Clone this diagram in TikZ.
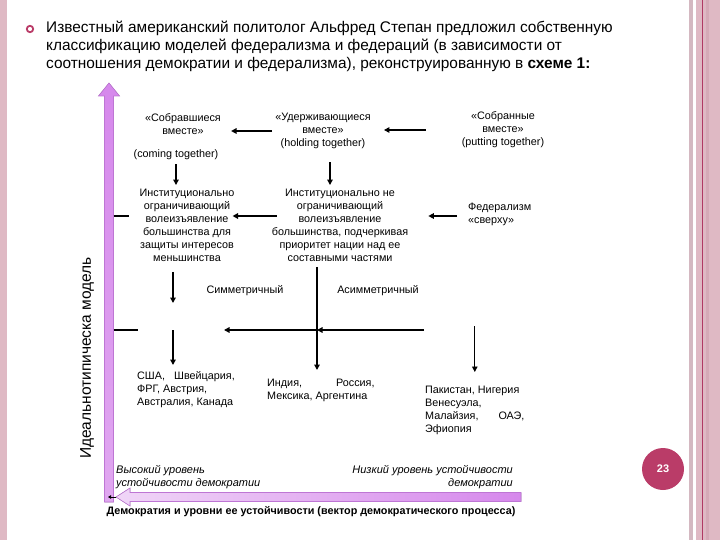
\documentclass[tikz,border=0pt]{standalone}
\usepackage{fontspec}
\setmainfont{Liberation Sans}
\usetikzlibrary{positioning,arrows.meta}

\definecolor{rim}{RGB}{223,185,196}
\definecolor{rimgrey}{RGB}{212,184,193}
\definecolor{rimdark}{RGB}{213,170,183}
\definecolor{rimline}{RGB}{176,58,100}
\definecolor{badge}{RGB}{186,60,104}
\definecolor{axisdark}{RGB}{214,136,236}
\definecolor{axislight}{RGB}{240,214,247}
\definecolor{axisedge}{RGB}{190,118,212}

\tikzstyle{txt}=[inner sep=0pt,align=center,font=\fontsize{10.8}{13}\selectfont]
\tikzstyle{ltxt}=[txt,align=left,anchor=north west]
\tikzstyle{itxt}=[ltxt,font=\fontsize{11}{13.5}\selectfont\itshape]
\tikzstyle{arr}=[-{Triangle[length=5.5pt,width=5.5pt]},line width=1.5pt]
\tikzstyle{thinarr}=[arr,line width=0.8pt]
\newcommand{\myarrow}[5]{\draw[#5,shorten <=#3,shorten >=#4] (#1) -- (#2);}

\begin{document}
\begin{tikzpicture}[x=1pt,y=-1pt]
\useasboundingbox (0,0) rectangle (720,540);

% slide frame
\fill[rim] (0,0) rectangle (7,540);
\fill[rimgrey] (689,0) rectangle (693,540);
\fill[rim] (696,0) rectangle (720,540);
\fill[rimdark] (706,0) rectangle (708.5,540);
\draw[rimline,line width=0.9pt] (702,0) -- (702,540);
\draw[badge,line width=1.8pt] (30,29) circle (3.2);
\node[ltxt,font=\fontsize{15.4}{18}\selectfont] (intro) at (46,21)
  {Известный американский политолог Альфред Степан предложил собственную\\
   классификацию моделей федерализма и федераций (в зависимости от\\
   соотношения демократии и федерализма), реконструированную в \textbf{схеме 1:}};
\node[circle,fill=badge,minimum size=42pt,inner sep=0pt,text=white,
  font=\fontsize{11}{11}\selectfont\bfseries] (page) at (663,469) {23};

% axes
\fill[top color=axisdark,bottom color=axisdark!60!axislight,draw=axisedge,line width=0.6pt]
  (109,83) -- (119.5,96) -- (113.5,96) -- (113.5,502) -- (104.5,502) -- (104.5,96) -- (98.5,96) -- cycle;
\fill[left color=axislight,right color=axisdark,draw=axisedge,line width=0.6pt]
  (116,497) -- (130,488) -- (130,492.5) -- (521,492.5) -- (521,501.5) -- (130,501.5) -- (130,506) -- cycle;
\draw[-{Triangle[length=3pt,width=3.5pt]},line width=0.7pt] (116,497) -- (108,497);
\node[txt,rotate=90,font=\fontsize{15.5}{16}\selectfont] (ideal) at (87,358) {Идеальнотипическа модель};
\node[txt,font=\fontsize{10.8}{12}\selectfont\bfseries] (vector) at (311,512)
  {Демократия и уровни ее устойчивости (вектор демократического процесса)};
\node[itxt] (high) at (116,465) {Высокий уровень\\устойчивости демократии};
\node[itxt,align=right,anchor=north east] (low) at (513,465) {Низкий уровень устойчивости\\демократии};

% models
\node[txt] (came) at (183,124.5) {«Собравшиеся\\вместе»};
\node[txt] (cametag) at (176,155) {(coming together)};
\node[txt] (held) at (323,131) {«Удерживающиеся\\вместе»\\(holding together)};
\node[txt] (put) at (503,130) {«Собранные\\вместе»\\(putting together)};
\node[txt] (lim) at (187,225.5) {Институционально\\ограничивающий\\волеизъявление\\большинства для\\защиты интересов\\меньшинства};
\node[txt] (unlim) at (340,225.5) {Институционально не\\ограничивающий\\волеизъявление\\большинства, подчеркивая\\приоритет нации над ее\\составными частями};
\node[txt,align=left,anchor=west] (above) at (468,214) {Федерализм\\«сверху»};
\node[txt] (sym) at (245,291) {Симметричный};
\node[txt] (asym) at (378,291) {Асимметричный};
\node[ltxt] (west) at (137,371) {США,\ \ \ Швейцария,\\ФРГ, Австрия,\\Австралия, Канада};
\node[ltxt] (mixed) at (267,379) {Индия,\hspace{34pt}Россия,\\Мексика, Аргентина};
\node[ltxt] (south) at (425,386) {Пакистан,\ Нигерия\\Венесуэла,\\Малайзия,\hspace{20pt}ОАЭ,\\Эфиопия};

\coordinate (symjoin) at (173,330);
\coordinate (rowR) at (424,330);
\coordinate (rowM) at (317,330);
\coordinate (ax1) at (113.5,216);
\coordinate (ax2) at (113.5,330);

\myarrow{held.west}{held.west -| came.east}{3pt}{10pt}{arr}
\myarrow{put.west}{put.west -| held.east}{36pt}{13pt}{arr}
\myarrow{cametag.south}{cametag.south |- lim.north}{4pt}{4pt}{arr}
\myarrow{[xshift=7pt]held.south}{[xshift=7pt]held.south |- unlim.north}{13pt}{4pt}{arr}
\myarrow{unlim.west |- ax1}{lim.east |- ax1}{-5pt}{-2pt}{arr}
\myarrow{above.west |- ax1}{unlim.east |- ax1}{11pt}{20pt}{arr}
\myarrow{lim.south -| symjoin}{symjoin}{10pt}{27pt}{arr}
\myarrow{symjoin}{symjoin |- west.north}{0pt}{6pt}{arr}
\myarrow{unlim.south -| rowM}{rowM |- mixed.north}{5pt}{9pt}{arr}
\myarrow{rowR}{rowM}{0pt}{0pt}{arr}
\myarrow{rowM}{symjoin}{0pt}{51pt}{arr}
\myarrow{rowR -| south.north}{south.north}{-4pt}{14pt}{thinarr}
\draw[line width=1.5pt] (ax1) -- ++(15,0);
\draw[line width=1.5pt] (ax2) -- ++(24,0);
\end{tikzpicture}
\end{document}
